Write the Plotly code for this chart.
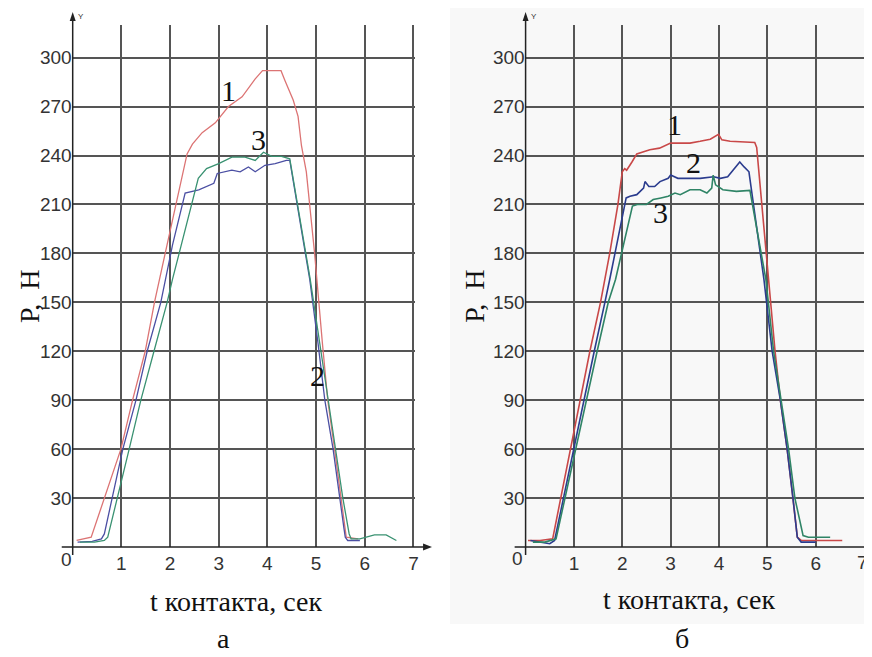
import plotly.graph_objects as go

# ---------------- DATA ----------------
# Panel "а"
a_t1 = [0.08, 0.38, 0.99, 1.23, 1.49, 1.68, 1.9, 2.12, 2.35, 2.46, 2.66, 2.93, 3.2, 3.48, 3.75, 3.9, 4.28, 4.36, 4.46, 4.53, 4.63, 4.7, 4.8, 4.97, 5.13, 5.24, 5.38, 5.52, 5.62, 5.86]
a_p1 = [4, 6, 60, 90, 120, 150, 180, 210, 241, 247, 254, 260, 270, 276, 287, 292, 292, 286, 279, 274, 264, 246, 230, 180, 125, 90, 60, 30, 6, 5]

a_t2 = [0.1, 0.4, 0.59, 0.65, 1.03, 1.3, 1.53, 1.81, 2.05, 2.31, 2.59, 2.9, 2.97, 3.27, 3.44, 3.61, 3.75, 3.95, 4.16, 4.39, 4.46, 4.87, 5.04, 5.18, 5.35, 5.48, 5.57, 5.6, 5.65, 5.9]
a_p2 = [3, 3.5, 5, 8, 60, 90, 120, 150, 185, 217, 219, 223, 229, 231, 230, 233, 230, 234, 235, 237, 237, 164, 125, 90, 60, 30, 12, 6, 4, 4]

a_t3 = [0.15, 0.45, 0.65, 0.72, 1.16, 1.4, 1.67, 1.94, 2.05, 2.58, 2.75, 3.0, 3.27, 3.54, 3.75, 3.92, 4.09, 4.29, 4.46, 4.88, 5.1, 5.25, 5.4, 5.55, 5.68, 5.72, 5.9, 6.2, 6.44, 6.6, 6.65]
a_p3 = [3, 3, 4, 6, 60, 90, 120, 150, 164, 226, 232, 235, 239, 239, 237, 242, 239.5, 239.5, 238, 164, 120, 90, 60, 30, 8, 5, 5, 7.4, 7.4, 5, 4]

# Panel "б"
b_t1 = [0.05, 0.3, 0.56, 0.93, 1.14, 1.33, 1.55, 1.74, 1.91, 2.0, 2.05, 2.09, 2.2, 2.3, 2.57, 2.77, 3.0, 3.4, 3.61, 3.82, 3.99, 4.06, 4.23, 4.74, 4.78, 5.02, 5.16, 5.27, 5.41, 5.53, 5.62, 5.7, 6.0, 6.55]
b_p1 = [4, 4, 5, 60, 90, 120, 150, 180, 210, 230, 232, 231, 236, 241, 243.5, 244.5, 247.6, 247.6, 248.7, 250, 253, 249.6, 248.7, 248, 245, 164, 120, 90, 60, 30, 6, 4, 4, 4]

b_t2 = [0.1, 0.35, 0.5, 0.6, 0.99, 1.2, 1.42, 1.64, 1.74, 2.08, 2.16, 2.3, 2.44, 2.47, 2.55, 2.67, 2.78, 2.95, 3.0, 3.15, 3.4, 3.61, 3.89, 4.03, 4.18, 4.29, 4.43, 4.52, 4.62, 4.93, 5.1, 5.27, 5.41, 5.53, 5.62, 5.7, 6.0]
b_p2 = [4, 3, 2, 4, 60, 90, 120, 150, 164, 214, 215, 216, 220, 224, 221, 221, 224, 226, 228, 226, 226, 226, 227, 226, 227, 231, 236, 233, 230, 164, 120, 90, 60, 30, 6, 3, 3]

b_t3 = [0.15, 0.4, 0.63, 1.03, 1.25, 1.48, 1.71, 1.86, 2.21, 2.31, 2.5, 2.64, 2.8, 2.95, 3.09, 3.2, 3.4, 3.61, 3.75, 3.85, 3.88, 3.93, 4.08, 4.36, 4.64, 4.97, 5.13, 5.29, 5.44, 5.57, 5.74, 5.85, 6.0, 6.3]
b_p3 = [3, 3, 5, 60, 90, 120, 150, 164, 209, 210, 210, 213, 214, 215, 217, 216, 219, 219, 217, 220, 228, 222, 219, 218, 218.6, 164, 120, 90, 60, 30, 7, 6, 6, 6]

y_ticks = [30, 60, 90, 120, 150, 180, 210, 240, 270, 300]
x_ticks_a = [1, 2, 3, 4, 5, 6, 7]
x_ticks_b = [1, 2, 3, 4, 5, 6]

# curve number labels: (text, t, P)
a_labels = [("1", 3.21, 280), ("3", 3.82, 250), ("2", 5.03, 105)]
b_labels = [("1", 3.09, 259), ("2", 3.48, 236), ("3", 2.8, 205)]

# ---------------- LAYOUT ----------------
# page body has an 8px margin, so the figure is drawn offset by 8px
OFF = 8
W, H = 872 - OFF, 657 - OFF
def px(x): return (x - OFF) / W
def py(y): return 1 - (y - OFF) / H

SEC_A = 48.9
SEC_B = 48.57
X0_A, X0_B = 73, 528
Y_BOT, Y_TOP = 547, 25
XMAX = 7.03

RED_A, BLUE_A, GREEN_A = "#dc7474", "#4b4fa3", "#3a9272"
RED_B, BLUE_B, GREEN_B = "#c94848", "#2b3c8e", "#2f8466"

fig = go.Figure()
def add(t, p, color, xa, ya, w):
    fig.add_trace(go.Scatter(x=t, y=p, mode="lines", line=dict(color=color, width=w),
                             xaxis=xa, yaxis=ya, showlegend=False, hoverinfo="skip"))

add(a_t1, a_p1, RED_A, "x", "y", 1.3)
add(a_t2, a_p2, BLUE_A, "x", "y", 1.3)
add(a_t3, a_p3, GREEN_A, "x", "y", 1.3)
add(b_t1, b_p1, RED_B, "x2", "y2", 1.6)
add(b_t2, b_p2, BLUE_B, "x2", "y2", 1.6)
add(b_t3, b_p3, GREEN_B, "x2", "y2", 1.6)

GRID = "#555555"
sans = "Liberation Sans, Arial, sans-serif"
tickfont = dict(family=sans, size=19, color="#333333")
common_x = dict(range=[0, XMAX], showgrid=True, gridcolor=GRID, gridwidth=1.5,
                zeroline=False, showline=False, ticks="", tickfont=tickfont, ticklabelstandoff=3,
                fixedrange=True)
common_y = dict(range=[0, 320], tickvals=y_ticks, showgrid=True, gridcolor=GRID, gridwidth=1.5,
                zeroline=False, showline=False, ticks="", tickfont=tickfont,
                domain=[py(Y_BOT), py(Y_TOP)], fixedrange=True)

fig.update_layout(
    width=W, height=H, margin=dict(l=0, r=0, t=0, b=0),
    paper_bgcolor="white", plot_bgcolor="rgba(0,0,0,0)",
    xaxis=dict(common_x, tickvals=x_ticks_a, domain=[px(X0_A), px(X0_A + XMAX * SEC_A)], anchor="y"),
    yaxis=dict(common_y, anchor="x"),
    xaxis2=dict(common_x, tickvals=x_ticks_b, domain=[px(X0_B), min(1.0, px(X0_B + XMAX * SEC_B))], anchor="y2"),
    yaxis2=dict(common_y, anchor="x2"),
)

shapes = []
# light background box of right panel
shapes.append(dict(type="rect", xref="paper", yref="paper", x0=px(452), x1=1.0, y0=py(624), y1=1.0,
                   fillcolor="#f8f8f8", line=dict(width=0), layer="below"))
AX = dict(color="#222222", width=1.5)
def axes_deco(x0, xr_end):
    shapes.append(dict(type="line", xref="paper", yref="paper", x0=px(x0 - 11), x1=px(xr_end),
                       y0=py(Y_BOT), y1=py(Y_BOT), line=AX, layer="above"))
    shapes.append(dict(type="path", xref="paper", yref="paper",
                       path=f"M {px(xr_end+8)} {py(Y_BOT)} L {px(xr_end-1)} {py(Y_BOT-3.5)} L {px(xr_end-1)} {py(Y_BOT+3.5)} Z",
                       fillcolor="#222222", line=dict(width=0), layer="above"))
    shapes.append(dict(type="line", xref="paper", yref="paper", x0=px(x0), x1=px(x0),
                       y0=py(Y_BOT + 8), y1=py(20), line=AX, layer="above"))
    shapes.append(dict(type="path", xref="paper", yref="paper",
                       path=f"M {px(x0)} {py(12)} L {px(x0-3)} {py(21)} L {px(x0+3)} {py(21)} Z",
                       fillcolor="#222222", line=dict(width=0), layer="above"))
axes_deco(X0_A, 426)
axes_deco(X0_B, 880)
fig.update_layout(shapes=shapes)

serif = "Liberation Serif, Times New Roman, serif"
ann = []
def txt(x, y, s, size, family=serif, angle=0, color="#111111"):
    ann.append(dict(xref="paper", yref="paper", x=px(x), y=py(y), text=s, showarrow=False,
                    font=dict(family=family, size=size, color=color), textangle=angle,
                    xanchor="center", yanchor="middle"))
ylab = "Р,\u00a0\u00a0Н"
txt(29, 296, ylab, 28, angle=-90)
txt(476, 296, ylab, 28, angle=-90)
txt(237, 601, "t контакта, сек", 28)
txt(692, 599, "t контакта, сек", 28)
txt(225, 638, "а", 28)
txt(685, 638, "б", 28)
txt(67, 559, "0", 19, family=sans, color="#333333")
txt(520, 558, "0", 19, family=sans, color="#333333")
txt(866, 562, "7", 19, family=sans, color="#333333")
txt(81, 17, "Y", 8, family=sans, color="#333333")
txt(536, 17, "Y", 8, family=sans, color="#333333")
for s, t, p in a_labels:
    ann.append(dict(xref="x", yref="y", x=t, y=p, text=s, showarrow=False,
                    font=dict(family=serif, size=30, color="#111111")))
for s, t, p in b_labels:
    ann.append(dict(xref="x2", yref="y2", x=t, y=p, text=s, showarrow=False,
                    font=dict(family=serif, size=30, color="#111111")))
fig.update_layout(annotations=ann)

fig.write_html("out.html")
